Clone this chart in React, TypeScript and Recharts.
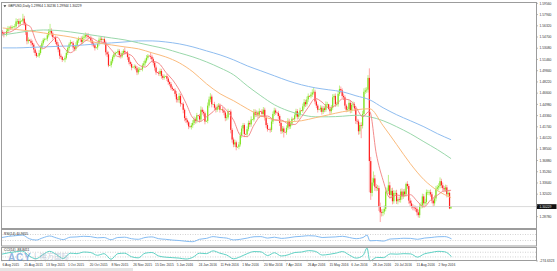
import { ComposedChart, LineChart, Bar, Line, XAxis, YAxis, ReferenceLine } from 'recharts';

// GBPUSD daily closes, one per bar (bars 0..330)
const closes = [
  1.5525, 1.5505, 1.5510, 1.5555, 1.5595, 1.5605, 1.5600, 1.5615, 1.5620, 1.5625,
  1.5695, 1.5700, 1.5660, 1.5700, 1.5705, 1.5735, 1.5665, 1.5540, 1.5410, 1.5430,
  1.5415, 1.5385, 1.5360, 1.5290, 1.5240, 1.5195, 1.5200, 1.5240, 1.5320, 1.5380,
  1.5430, 1.5440, 1.5445, 1.5495, 1.5545, 1.5560, 1.5520, 1.5470, 1.5465, 1.5400,
  1.5360, 1.5290, 1.5200, 1.5180, 1.5140, 1.5145, 1.5170, 1.5240, 1.5310, 1.5365,
  1.5395, 1.5380, 1.5320, 1.5300, 1.5355, 1.5420, 1.5450, 1.5445, 1.5400, 1.5460,
  1.5475, 1.5500, 1.5490, 1.5470, 1.5460, 1.5420, 1.5375, 1.5350, 1.5310, 1.5320,
  1.5370, 1.5430, 1.5445, 1.5430, 1.5440, 1.5390, 1.5250, 1.5220, 1.5060, 1.5065,
  1.5120, 1.5180, 1.5220, 1.5240, 1.5250, 1.5270, 1.5210, 1.5190, 1.5240, 1.5270,
  1.5250, 1.5245, 1.5180, 1.5110, 1.5080, 1.5030, 1.5040, 1.5045, 1.5020, 1.4960,
  1.5000, 1.5010, 1.5005, 1.5060, 1.5090, 1.5130, 1.5170, 1.5200, 1.5195, 1.5185,
  1.5150, 1.5100, 1.5030, 1.4960, 1.4955, 1.4940, 1.4980, 1.4910, 1.4880, 1.4900,
  1.4905, 1.4870, 1.4820, 1.4790, 1.4740, 1.4720, 1.4700, 1.4650, 1.4570, 1.4560,
  1.4620, 1.4510, 1.4505, 1.4420, 1.4300, 1.4270, 1.4240, 1.4180, 1.4170, 1.4195,
  1.4230, 1.4280, 1.4260, 1.4340, 1.4330, 1.4280, 1.4420, 1.4390, 1.4370, 1.4250,
  1.4260, 1.4480, 1.4570, 1.4610, 1.4500, 1.4500, 1.4450, 1.4420, 1.4460, 1.4480,
  1.4420, 1.4425, 1.4410, 1.4380, 1.4300, 1.4310, 1.4400, 1.4395, 1.4130, 1.3990,
  1.3920, 1.3950, 1.3880, 1.3885, 1.3920, 1.4050, 1.4150, 1.4200, 1.4070, 1.4065,
  1.4140, 1.4230, 1.4210, 1.4280, 1.4280, 1.4390, 1.4350, 1.4380, 1.4340, 1.4400,
  1.4395, 1.4360, 1.4420, 1.4310, 1.4200, 1.4140, 1.4135, 1.4130, 1.4250, 1.4360,
  1.4410, 1.4380, 1.4375, 1.4330, 1.4230, 1.4110, 1.4150, 1.4100, 1.4095, 1.4160,
  1.4260, 1.4180, 1.4220, 1.4290, 1.4285, 1.4340, 1.4400, 1.4320, 1.4350, 1.4410,
  1.4405, 1.4470, 1.4530, 1.4500, 1.4570, 1.4620, 1.4615, 1.4640, 1.4670, 1.4680,
  1.4540, 1.4480, 1.4420, 1.4425, 1.4450, 1.4390, 1.4440, 1.4420, 1.4500, 1.4500,
  1.4430, 1.4400, 1.4450, 1.4600, 1.4620, 1.4500, 1.4500, 1.4650, 1.4720, 1.4700,
  1.4620, 1.4600, 1.4480, 1.4420, 1.4430, 1.4520, 1.4410, 1.4490, 1.4500, 1.4440,
  1.4260, 1.4250, 1.4110, 1.4200, 1.4190, 1.4360, 1.4680, 1.4700, 1.4710, 1.4880,
  1.3680, 1.3220, 1.3370, 1.3430, 1.3310, 1.3290, 1.3290, 1.3020, 1.2940, 1.2930,
  1.2950, 1.2990, 1.3240, 1.3250, 1.3330, 1.3190, 1.3250, 1.3100, 1.3220, 1.3220,
  1.3100, 1.3130, 1.3120, 1.3240, 1.3170, 1.3240, 1.3200, 1.3350, 1.3320, 1.3110,
  1.3070, 1.3030, 1.3010, 1.3000, 1.2990, 1.2940, 1.2900, 1.3030, 1.3040, 1.3170,
  1.3070, 1.3090, 1.3230, 1.3230, 1.3230, 1.3200, 1.3110, 1.3070, 1.3140, 1.3280,
  1.3300, 1.3320, 1.3390, 1.3330, 1.3290, 1.3270, 1.3300, 1.3200, 1.3220, 1.2996,
  1.3023,
];
const firstOpen = 1.554;

// wick lengths in pips above / below the candle body
const wickUp = [
  30, 25, 5, 40, 35, 20, 30, 25, 6, 35, 45, 30, 35, 40, 5, 70, 40, 25, 30, 35,
  6, 30, 35, 25, 30, 20, 5, 40, 35, 30, 25, 20, 5, 30, 40, 100, 35, 30, 6, 25,
  30, 35, 20, 30, 15, 5, 30, 40, 30, 25, 35, 6, 30, 25, 40, 30, 25, 5, 35, 30,
  40, 35, 25, 40, 6, 30, 25, 30, 20, 5, 30, 35, 30, 25, 6, 35, 30, 25, 40, 5,
  30, 25, 30, 20, 5, 30, 25, 35, 30, 25, 50, 5, 25, 30, 20, 25, 6, 30, 25, 30,
  35, 25, 5, 30, 35, 30, 40, 25, 6, 55, 30, 25, 20, 30, 5, 25, 35, 30, 25, 30,
  6, 30, 25, 20, 30, 25, 5, 30, 40, 35, 45, 30, 6, 25, 20, 30, 25, 20, 5, 35,
  40, 45, 30, 35, 6, 30, 50, 35, 30, 25, 6, 45, 40, 50, 30, 5, 35, 30, 40, 35,
  30, 6, 35, 30, 25, 40, 35, 5, 30, 25, 30, 40, 25, 5, 35, 45, 40, 30, 25, 6,
  40, 35, 30, 45, 5, 40, 35, 30, 25, 40, 6, 35, 40, 30, 25, 30, 5, 30, 40, 35,
  40, 30, 6, 30, 25, 30, 35, 30, 5, 35, 40, 30, 35, 30, 6, 40, 35, 30, 35, 40,
  6, 40, 45, 35, 40, 35, 5, 35, 45, 60, 30, 30, 25, 6, 35, 30, 35, 30, 40, 35,
  6, 35, 40, 45, 30, 35, 35, 40, 50, 35, 30, 35, 30, 25, 35, 40, 35, 30, 40, 30,
  35, 30, 30, 35, 40, 45, 50, 40, 35, 40, 138, 60, 70, 100, 50, 40, 45, 35, 60, 45,
  40, 50, 60, 45, 150, 50, 40, 45, 40, 35, 45, 35, 40, 40, 45, 35, 40, 20, 40, 30,
  35, 40, 30, 30, 35, 30, 40, 35, 45, 40, 35, 45, 40, 35, 30, 40, 35, 40, 45, 40,
  35, 40, 55, 35, 40, 30, 40, 35, 30, 20, 1,
];
const wickDn = [
  35, 40, 5, 30, 25, 35, 30, 25, 5, 30, 25, 40, 45, 30, 5, 25, 30, 40, 45, 35,
  5, 40, 35, 45, 40, 25, 6, 30, 25, 35, 30, 25, 5, 35, 30, 25, 40, 35, 5, 30,
  35, 40, 45, 30, 30, 5, 40, 25, 30, 35, 30, 5, 40, 35, 30, 25, 35, 6, 40, 30,
  35, 30, 40, 25, 5, 35, 40, 30, 35, 6, 35, 30, 25, 40, 5, 30, 45, 40, 25, 6,
  35, 30, 25, 30, 6, 35, 40, 30, 25, 30, 35, 6, 40, 35, 30, 40, 5, 35, 30, 40,
  30, 35, 6, 30, 25, 35, 30, 25, 5, 35, 35, 40, 45, 35, 6, 30, 35, 40, 30, 25,
  5, 35, 40, 30, 35, 30, 6, 40, 45, 35, 40, 45, 5, 50, 45, 40, 35, 40, 6, 35,
  35, 30, 40, 35, 5, 45, 35, 40, 45, 40, 6, 35, 30, 40, 45, 5, 35, 40, 30, 35,
  40, 6, 35, 40, 45, 35, 30, 6, 50, 45, 40, 35, 45, 6, 35, 30, 35, 40, 45, 5,
  35, 30, 40, 35, 5, 30, 35, 30, 40, 35, 6, 40, 30, 45, 40, 35, 5, 40, 30, 35,
  30, 35, 6, 40, 45, 40, 30, 80, 5, 35, 30, 40, 35, 30, 5, 35, 30, 40, 35, 30,
  5, 30, 35, 40, 30, 35, 6, 30, 35, 30, 40, 35, 40, 5, 35, 40, 30, 35, 30, 40,
  6, 40, 35, 30, 35, 40, 30, 35, 30, 40, 35, 40, 45, 35, 30, 35, 40, 35, 30, 40,
  45, 40, 50, 45, 180, 40, 35, 30, 35, 40, 451, 100, 50, 45, 60, 45, 40, 60, 140, 50,
  45, 40, 35, 40, 45, 50, 40, 45, 35, 40, 40, 45, 35, 40, 45, 35, 40, 35, 40, 45,
  40, 35, 40, 35, 40, 45, 35, 40, 35, 40, 45, 40, 35, 40, 45, 35, 40, 45, 35, 40,
  35, 40, 35, 40, 45, 40, 35, 45, 40, 10, 3,
];
const lastPrice = 1.30229;

// moving averages
const fastBars = [
  0, 5, 10, 15, 20, 25, 30, 35, 40, 45, 50, 55, 60, 65, 70, 75, 80, 85, 90, 95,
  100, 105, 110, 115, 120, 125, 130, 135, 140, 145, 150, 155, 160, 165, 170, 175, 180, 185, 190, 195,
  200, 205, 210, 215, 220, 225, 230, 235, 240, 245, 250, 255, 260, 265, 270, 275, 280, 285, 290, 295,
  300, 305, 310, 315, 320, 325, 330,
];
const maFast = [
  1.5530, 1.5540, 1.5593, 1.5656, 1.5626, 1.5393, 1.5304, 1.5386, 1.5470, 1.5317,
  1.5244, 1.5326, 1.5401, 1.5457, 1.5407, 1.5387, 1.5286, 1.5188, 1.5232, 1.5201,
  1.5071, 1.5036, 1.5120, 1.5089, 1.4962, 1.4853, 1.4704, 1.4511, 1.4302, 1.4251,
  1.4318, 1.4395, 1.4489, 1.4406, 1.4266, 1.4052, 1.4031, 1.4202, 1.4326, 1.4330,
  1.4272, 1.4271, 1.4219, 1.4208, 1.4320, 1.4458, 1.4584, 1.4531, 1.4446, 1.4486,
  1.4576, 1.4564, 1.4455, 1.4321, 1.4400, 1.3780, 1.3400, 1.3150, 1.3189, 1.3179,
  1.3195, 1.3102, 1.3018, 1.3119, 1.3188, 1.3250, 1.3258,
];
const maBars = [
  0, 10, 20, 30, 40, 50, 60, 70, 80, 90, 100, 110, 120, 130, 140, 150, 160,
  170, 180, 190, 200, 210, 220, 230, 240, 250, 260, 270, 280, 290, 300, 310, 320, 330,
];
const maMid = [
  1.5601, 1.5579, 1.5558, 1.5529, 1.5500, 1.5471, 1.5428, 1.5385, 1.5356, 1.5327,
  1.5299, 1.5241, 1.5183, 1.5097, 1.4967, 1.4795, 1.4651, 1.4550, 1.4435, 1.4334,
  1.4277, 1.4248, 1.4262, 1.4305, 1.4348, 1.4391, 1.4420, 1.4435, 1.4190, 1.3917,
  1.3643, 1.3412, 1.3254, 1.3153,
];
const maSlow = [
  1.5500, 1.5529, 1.5558, 1.5572, 1.5565, 1.5543, 1.5515, 1.5486, 1.5457, 1.5428,
  1.5385, 1.5342, 1.5299, 1.5241, 1.5183, 1.5111, 1.5025, 1.4924, 1.4766, 1.4622,
  1.4492, 1.4406, 1.4348, 1.4319, 1.4319, 1.4327, 1.4341, 1.4319, 1.4262, 1.4175,
  1.4075, 1.3959, 1.3844, 1.3715,
];
const maLong = [
  1.5313, 1.5313, 1.5320, 1.5327, 1.5335, 1.5342, 1.5356, 1.5371, 1.5385, 1.5399,
  1.5414, 1.5414, 1.5399, 1.5371, 1.5327, 1.5270, 1.5212, 1.5140, 1.5054, 1.4982,
  1.4910, 1.4838, 1.4780, 1.4737, 1.4708, 1.4680, 1.4622, 1.4565, 1.4449, 1.4348,
  1.4262, 1.4175, 1.4075, 1.3988,
];

// oscillators
const oscBars = [
  0, 5, 10, 15, 20, 25, 30, 35, 40, 45, 50, 55, 60, 65, 70, 75, 80, 85, 90, 95,
  100, 105, 110, 115, 120, 125, 130, 135, 140, 145, 150, 155, 160, 165, 170, 175, 180, 185, 190, 195,
  200, 205, 210, 215, 220, 225, 230, 235, 240, 245, 250, 255, 260, 265, 268, 270, 275, 280, 285, 290,
  295, 300, 305, 310, 315, 320, 325, 330,
];
const rsi = [
  50, 58, 62, 66, 42, 33, 48, 60, 47, 36, 52, 54, 58, 56, 48, 50, 35, 50, 52, 42,
  38, 50, 54, 42, 38, 33, 30, 25, 22, 38, 44, 56, 50, 46, 34, 38, 46, 55, 56, 46,
  52, 44, 48, 55, 58, 62, 60, 50, 52, 54, 58, 50, 42, 50, 66, 28, 30, 26, 40, 42,
  45, 44, 38, 46, 50, 55, 56, 40.97,
];
const cci = [
  20, 80, 120, 150, -60, -180, 0, 140, 0, -170, 60, 40, 110, 90, -30, 40, -200, 40, 60, -90,
  -140, 60, 90, -60, -110, -130, -150, -190, -120, 60, 40, 160, 60, -20, -180, -90, 40, 130, 120, -40,
  80, -60, -10, 90, 110, 170, 140, -20, 10, 60, 130, -20, -150, -40, 282.75, -274.63, -120, -130, 30, 20,
  40, 30, -110, 30, 90, 140, 120, -88.84,
];

const dateBars = [0, 16, 32, 48, 64, 80, 96, 112, 128, 144, 160, 176, 192, 208, 224, 240, 256, 272, 288, 304, 320];
const dateLabels = [
  '6 Aug 2015', '25 Aug 2015', '13 Sep 2015', '1 Oct 2015', '20 Oct 2015', '8 Nov 2015', '26 Nov 2015',
  '15 Dec 2015', '5 Jan 2016', '24 Jan 2016', '11 Feb 2016', '1 Mar 2016', '20 Mar 2016', '7 Apr 2016',
  '26 Apr 2016', '15 May 2016', '6 Jun 2016', '28 Jun 2016', '20 Jul 2016', '11 Aug 2016', '2 Sep 2016',
];
const priceTicks = [
  1.5956, 1.5794, 1.5632, 1.547, 1.5308, 1.5146, 1.4984, 1.4822, 1.466, 1.4498,
  1.4336, 1.4174, 1.4012, 1.385, 1.3688, 1.3526, 1.3364, 1.3202, 1.304, 1.2878,
];

const SLOTS = 393; // chart keeps empty room on the right
const FONT = 'Liberation Sans, Arial, sans-serif';
const TXT = 3.3;

const rows: any[] = Array.from({ length: SLOTS }, (_, i) => {
  const row: any = { i };
  if (i < closes.length) {
    const open = i === 0 ? firstOpen : closes[i - 1];
    const close = closes[i];
    const high = Math.max(open, close) + wickUp[i] / 10000;
    const low = Math.min(open, close) - wickDn[i] / 10000;
    Object.assign(row, { open, close, high, low, range: [low, high] });
  }
  return row;
});
fastBars.forEach((b, k) => (rows[b].maFast = maFast[k]));
maBars.forEach((b, k) => {
  rows[b].maMid = maMid[k];
  rows[b].maSlow = maSlow[k];
  rows[b].maLong = maLong[k];
});
oscBars.forEach((b, k) => {
  rows[b].rsi = rsi[k];
  rows[b].cci = cci[k];
});

function Candle(props: any) {
  const { x, y, width, height, payload } = props;
  if (!payload || payload.open == null) return null;
  const top = Math.min(y, y + height);
  const bot = Math.max(y, y + height);
  const k = (bot - top) / (payload.high - payload.low);
  const yo = top + (payload.high - payload.open) * k;
  const yc = top + (payload.high - payload.close) * k;
  const up = payload.close >= payload.open;
  const cx = x + width / 2;
  return (
    <g>
      <line x1={cx} x2={cx} y1={top} y2={bot} stroke={up ? '#b6ef7c' : '#ff9c9c'} strokeWidth={0.9} />
      <rect
        x={cx - 0.6}
        y={Math.min(yo, yc)}
        width={1.2}
        height={Math.max(Math.abs(yc - yo), 0.6)}
        fill={up ? '#7fe01c' : '#ff1f1f'}
      />
    </g>
  );
}

function PriceTag(props: any) {
  const { viewBox } = props;
  if (!viewBox) return null;
  const x = viewBox.x + viewBox.width;
  return (
    <g>
      <rect x={x + 0.5} y={viewBox.y - 2.4} width={20} height={4.8} fill="#111" />
      <text x={x + 3.5} y={viewBox.y + 1.2} fontSize={TXT} fill="#fff" fontFamily={FONT}>
        {lastPrice.toFixed(5)}
      </text>
    </g>
  );
}

function DateTick(props: any) {
  const { x, y, payload } = props;
  const k = dateBars.indexOf(payload.value);
  return (
    <g>
      <line x1={x} x2={x} y1={y - 1.2} y2={y + 0.3} stroke="#777" strokeWidth={0.5} />
      <text x={x + 0.5} y={y + 4.8} fontSize={TXT} fill="#333" fontFamily={FONT}>
        {dateLabels[k]}
      </text>
    </g>
  );
}

const axisTick = { fontSize: TXT, fill: '#333', fontFamily: FONT };

export default function App() {
  return (
    <div style={{ position: 'absolute', left: 0, top: 0, width: 557, height: 271, background: '#fff', overflow: 'hidden' }}>
      <div style={{ position: 'absolute', left: 0, top: 0 }}>
        <ComposedChart width={557} height={229} data={rows} margin={{ top: 3, right: 0, bottom: 1, left: 2 }} barCategoryGap={0} barGap={0}>
          <XAxis dataKey="i" hide />
          <YAxis
            orientation="right"
            width={21}
            domain={[1.2714, 1.5961]}
            allowDataOverflow
            ticks={priceTicks}
            tickFormatter={(v: number) => v.toFixed(5)}
            tick={axisTick}
            tickSize={2}
            tickMargin={1.5}
            axisLine={false}
            tickLine={{ stroke: '#777', strokeWidth: 0.5 }}
          />
          <ReferenceLine y={lastPrice} stroke="#cfcfcf" strokeWidth={0.8} label={<PriceTag />} />
          <Bar dataKey="range" shape={<Candle />} isAnimationActive={false} />
          <Line dataKey="maLong" type="monotone" stroke="#8fbdf0" strokeWidth={1} dot={false} connectNulls isAnimationActive={false} />
          <Line dataKey="maSlow" type="monotone" stroke="#9ad8ab" strokeWidth={1} dot={false} connectNulls isAnimationActive={false} />
          <Line dataKey="maMid" type="monotone" stroke="#fbbb7d" strokeWidth={1} dot={false} connectNulls isAnimationActive={false} />
          <Line dataKey="maFast" type="monotone" stroke="#f27f7f" strokeWidth={0.9} dot={false} connectNulls isAnimationActive={false} />
        </ComposedChart>
      </div>

      <div style={{ position: 'absolute', left: 0, top: 229 }}>
        <LineChart width={557} height={17} data={rows} margin={{ top: 1, right: 0, bottom: 1, left: 2 }}>
          <XAxis dataKey="i" hide />
          <YAxis
            orientation="right"
            width={21}
            domain={[0, 100]}
            ticks={[100, 70, 30, 0]}
            tick={axisTick}
            tickSize={2}
            tickMargin={1.5}
            axisLine={false}
            tickLine={{ stroke: '#777', strokeWidth: 0.5 }}
          />
          <ReferenceLine y={70} stroke="#b5b5b5" strokeWidth={0.6} strokeDasharray="1 1.5" />
          <ReferenceLine y={30} stroke="#b5b5b5" strokeWidth={0.6} strokeDasharray="1 1.5" />
          <Line dataKey="rsi" type="monotone" stroke="#84bbf2" strokeWidth={1} dot={false} connectNulls isAnimationActive={false} />
        </LineChart>
      </div>

      <div style={{ position: 'absolute', left: 0, top: 247 }}>
        <LineChart width={557} height={24} data={rows} margin={{ top: 1, right: 0, bottom: 0, left: 2 }}>
          <XAxis
            dataKey="i"
            ticks={dateBars}
            interval={0}
            height={10}
            tick={<DateTick />}
            tickSize={0}
            tickMargin={0}
            tickLine={false}
            axisLine={false}
          />
          <YAxis
            orientation="right"
            width={21}
            domain={[-274.63, 282.75]}
            ticks={[282.7546, 100, -100, -274.6323]}
            tickFormatter={(v: number) => (Math.abs(v) === 100 ? String(v) : v.toFixed(4))}
            tick={axisTick}
            tickSize={2}
            tickMargin={1.5}
            axisLine={false}
            tickLine={{ stroke: '#777', strokeWidth: 0.5 }}
          />
          <ReferenceLine y={100} stroke="#b5b5b5" strokeWidth={0.6} strokeDasharray="1 1.5" />
          <ReferenceLine y={-100} stroke="#b5b5b5" strokeWidth={0.6} strokeDasharray="1 1.5" />
          <Line dataKey="cci" type="monotone" stroke="#5fd1c4" strokeWidth={1} dot={false} connectNulls isAnimationActive={false} />
        </LineChart>
      </div>

      <svg width={557} height={271} style={{ position: 'absolute', left: 0, top: 0, pointerEvents: 'none' }}>
        <rect x={1.5} y={2.5} width={535} height={226} fill="none" stroke="#9c9c9c" strokeWidth={1} />
        <rect x={1.5} y={229.5} width={535} height={16.5} fill="none" stroke="#9c9c9c" strokeWidth={1} />
        <rect x={1.5} y={247.5} width={535} height={13} fill="none" stroke="#9c9c9c" strokeWidth={1} />
        <path d="M3.5 5.2 L6.3 5.2 L4.9 7.2 Z" fill="#333" />
        <text x={8} y={7.4} fontSize={TXT} fill="#222" fontFamily={FONT}>
          GBPUSD,Daily  1.29964 1.30236 1.29944 1.30229
        </text>
        <text x={4} y={234.5} fontSize={TXT} fill="#222" fontFamily={FONT}>RSI(14) 40.9655</text>
        <text x={4} y={250.8} fontSize={TXT} fill="#222" fontFamily={FONT}>CCI(14) -88.8411</text>
        <g opacity={0.6}>
          <text x={8} y={260.6} fontSize={10} fontWeight="bold" letterSpacing={0.8} fill="#4f86cf" fontFamily={FONT}>ACY</text>
          <text x={34} y={259.6} fontSize={8.5} fill="#9fb0c8" fontFamily={FONT}>|</text>
          <text x={39.5} y={259.4} fontSize={7.3} fill="#9fb0c8" fontFamily="Noto Sans CJK SC">稀万国际</text>
        </g>
        <rect x={0} y={268} width={133} height={3} fill="#e4e4e4" />
      </svg>
    </div>
  );
}
